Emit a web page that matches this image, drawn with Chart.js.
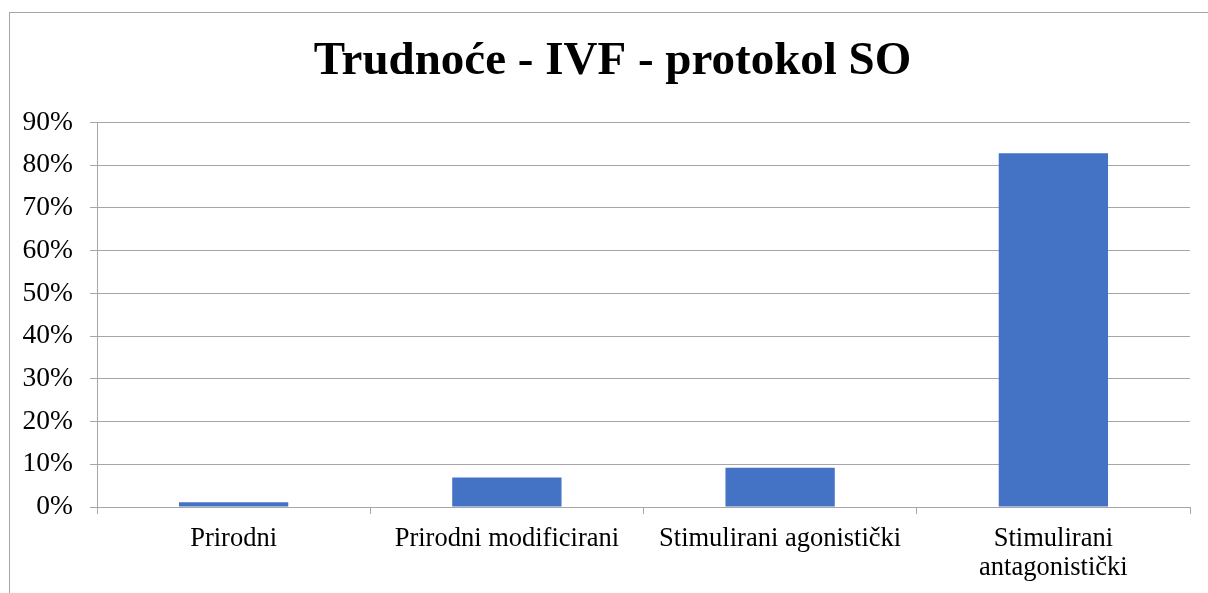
<!DOCTYPE html>
<html>
<head>
<meta charset="utf-8">
<script src="https://cdn.jsdelivr.net/npm/chart.js@4"></script>
<style>
  html, body { margin: 0; padding: 0; background: #fff; }
  #wrap { width: 1208px; height: 593px; }
</style>
</head>
<body>
<div id="wrap"><canvas id="chart" width="1208" height="593"></canvas></div>
<script>
// values
const categories = ['Prirodni', 'Prirodni modificirani', 'Stimulirani agonistički', ['Stimulirani', 'antagonistički']];
const pregnancyShare = [1.1, 6.9, 9.2, 82.8];
const yTicks = [0, 10, 20, 30, 40, 50, 60, 70, 80, 90];

const serif = "'Liberation Serif', 'Times New Roman', serif";
const lineGray = '#a6a6a6';

// outer frame like the Excel chart border, and nudge the title a bit right
const framePlugin = {
    id: 'frame',
    afterLayout(c) {
        if (c.titleBlock) c.titleBlock.left += 35;
    },
    beforeDraw(c) {
        const ctx = c.ctx;
        ctx.save();
        ctx.strokeStyle = lineGray;
        ctx.lineWidth = 1;
        ctx.strokeRect(9.5, 12.5, 1220, 700);
        ctx.restore();
    }
};

new Chart(document.getElementById('chart'), {
    type: 'bar',
    data: {
        labels: categories,
        datasets: [{
            data: pregnancyShare,
            backgroundColor: '#4472C4',
            borderWidth: 0,
            barPercentage: 0.4,
            categoryPercentage: 1
        }]
    },
    options: {
        responsive: false,
        animation: false,
        layout: { padding: { left: 0, right: 18, top: 0, bottom: 0 } },
        plugins: {
            legend: { display: false },
            tooltip: { enabled: false },
            title: {
                display: true,
                text: 'Trudnoće - IVF - protokol SO',
                color: '#000',
                font: { family: serif, size: 47, weight: 'bold', lineHeight: 1.2 },
                padding: { top: 34, bottom: 32 }
            }
        },
        scales: {
            x: {
                grid: {
                    offset: true,
                    drawOnChartArea: false,
                    drawTicks: true,
                    tickLength: 7,
                    color: lineGray
                },
                border: { color: lineGray },
                ticks: {
                    color: '#000',
                    font: { family: serif, size: 26.5, lineHeight: 1.12 },
                    padding: 10,
                    maxRotation: 0,
                    autoSkip: false
                },
                afterFit(scale) { scale.height = 86; }
            },
            y: {
                min: 0,
                max: 90,
                afterBuildTicks(scale) {
                    scale.ticks = yTicks.map(v => ({ value: v }));
                },
                grid: { color: lineGray, tickLength: 7, drawTicks: true },
                border: { color: lineGray },
                ticks: {
                    color: '#000',
                    font: { family: serif, size: 27.5 },
                    padding: 17,
                    callback: v => v + '%'
                },
                afterFit(scale) { scale.width = 97; }
            }
        }
    },
    plugins: [framePlugin]
});
</script>
</body>
</html>
